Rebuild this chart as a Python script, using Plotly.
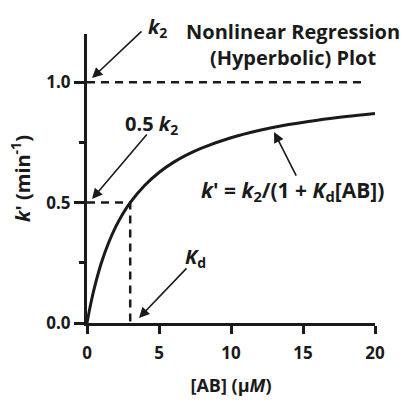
import plotly.graph_objects as go

# Data
ab_conc = [0, 0.25, 0.5, 1, 1.5, 2, 2.5, 3, 4, 5, 6, 7, 8, 10, 12, 14, 16, 18, 20]
k_prime = [0, 0.077, 0.143, 0.25, 0.333, 0.40, 0.455, 0.50, 0.571, 0.625, 0.667,
           0.70, 0.727, 0.769, 0.80, 0.824, 0.842, 0.857, 0.870]
k2 = 1.0
kd = 3.0
k2_line_end = 19.4
x_ticks = [0, 5, 10, 15, 20]
y_ticks = [0.0, 0.5, 1.0]
y_tick_labels = ["0.0", "0.5", "1.0"]
Y_MAX = 1.2

FONT = "Open Sans"
BLACK = "#1a1a1a"

fig = go.Figure()
fig.add_trace(go.Scatter(x=ab_conc, y=k_prime, mode="lines", line=dict(color=BLACK, width=3, shape="spline"),
                         hoverinfo="skip"))
fig.add_trace(go.Scatter(x=[0, k2_line_end], y=[k2, k2], mode="lines",
                         line=dict(color=BLACK, width=2.5, dash="8px,6px"), hoverinfo="skip"))
fig.add_trace(go.Scatter(x=[0, kd, kd], y=[k2 / 2, k2 / 2, 0], mode="lines",
                         line=dict(color=BLACK, width=2.5, dash="8px,6px"), hoverinfo="skip"))

arrows = [
    # (tail x, tail y, tip x, tip y)
    (3.89, 1.217, 0.35, 1.017),
    (4.24, 0.789, 0.35, 0.515),
    (7.01, 0.233, 3.61, 0.021),
    (14.58, 0.606, 12.99, 0.793),
]
for tx, ty, hx, hy in arrows:
    fig.add_annotation(x=hx, y=hy, ax=tx, ay=ty, xref="x", yref="y", axref="x", ayref="y",
                       text="", showarrow=True, arrowhead=2, arrowsize=1.3, arrowwidth=1.6,
                       arrowcolor=BLACK)

texts = [
    (4.93, 1.225, "<i>k</i><sub>2</sub>", 20),
    (4.5, 0.825, "0.5 <i>k</i><sub>2</sub>", 20),
    (7.5, 0.27, "<i>K</i><sub>d</sub>", 20),
    (14.24, 0.55, "<i>k</i>' = <i>k</i><sub>2</sub>/(1 + <i>K</i><sub>d</sub>[AB])", 21),
    (14.3, 1.155, "Nonlinear Regression<br>(Hyperbolic) Plot", 20),
]
for x, y, t, s in texts:
    fig.add_annotation(x=x, y=y / Y_MAX, xref="x", yref="paper", text=t, showarrow=False,
                       font=dict(family=FONT, size=s, color=BLACK, weight="bold"),
                       xanchor="center", yanchor="middle", align="center")

fig.update_layout(
    width=404, height=400,
    margin=dict(l=87, r=29, t=34, b=77),
    paper_bgcolor="white", plot_bgcolor="white",
    showlegend=False,
    font=dict(family=FONT, color=BLACK),
    xaxis=dict(range=[0, 20], tickvals=x_ticks, ticks="outside", ticklen=8, tickwidth=2.5,
               tickcolor=BLACK, showline=True, linewidth=3, linecolor=BLACK, showgrid=False,
               zeroline=False, ticklabelstandoff=5, automargin=False,
               tickfont=dict(family=FONT, size=17, color=BLACK, weight="bold"),
               title=dict(text="[AB] (μ<i>M</i>)", font=dict(family=FONT, size=18, color=BLACK, weight="bold"),
                          standoff=16)),
    yaxis=dict(range=[0, Y_MAX], tickvals=y_ticks, ticktext=y_tick_labels, ticks="outside", ticklen=10,
               tickwidth=2.5, tickcolor=BLACK, showline=True, linewidth=3, linecolor=BLACK,
               showgrid=False, zeroline=False, automargin=False,
               minor=dict(tickvals=[0.25, 0.75], ticks="outside", ticklen=5, tickwidth=2.5, tickcolor=BLACK),
               tickfont=dict(family=FONT, size=17, color=BLACK, weight="bold"),
               title=dict(text="<i>k</i>' (min<sup>-1</sup>)", font=dict(family=FONT, size=20, color=BLACK, weight="bold"),
                          standoff=11)),
)

fig.write_html("out.html")
